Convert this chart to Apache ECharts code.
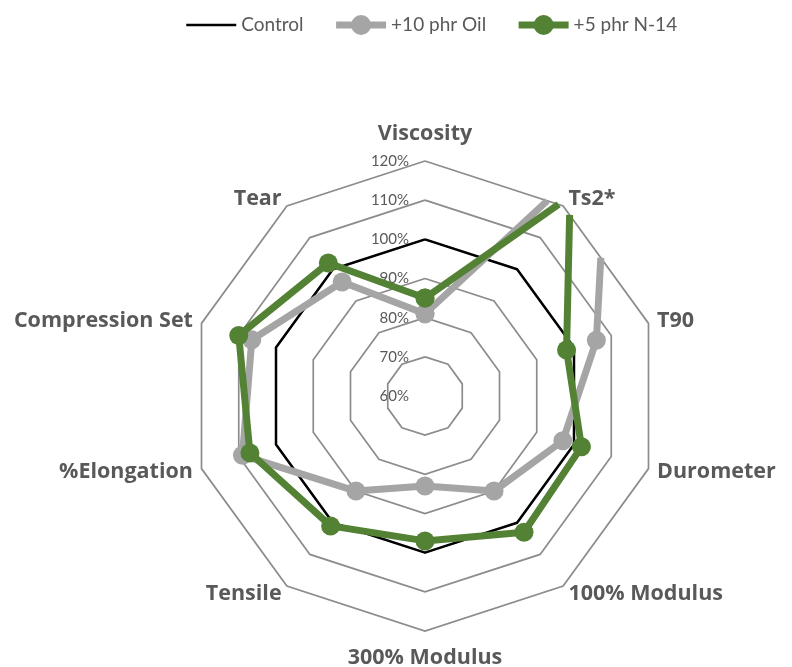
<!DOCTYPE html>
<html>
<head>
<meta charset="utf-8">
<script src="https://cdn.jsdelivr.net/npm/echarts@6/dist/echarts.min.js"></script>
<style>html,body{margin:0;padding:0;background:#fff;}#c{width:792px;height:667px;}</style>
</head>
<body>
<div id="c"></div>
<script>
// Categories, clockwise from the top
const categories = ['Viscosity', 'Ts2*', 'T90', 'Durometer', '100% Modulus', '300% Modulus', 'Tensile', '%Elongation', 'Compression Set', 'Tear'];
// Series values (percent of control)
const control = [100, 100, 100, 100, 100, 100, 100, 100, 100, 100];
const oil = [81, 139, 106, 97, 90, 83, 90, 109, 106.5, 96];
const n14 = [85, 123, 98, 102, 103, 97, 101, 107, 110, 102];
// Value axis
const axisMin = 60, axisMax = 120, axisStep = 10;
const tickLabels = ['60%', '70%', '80%', '90%', '100%', '110%', '120%'];

const FONT = 'Lato';
const NAME_FONT = 'Open Sans';
const chart = echarts.init(document.getElementById('c'), null, {renderer: 'canvas'});

const N = categories.length;
const STEP = 2 * Math.PI / N;
// Build the closed polygon in data space, cutting it where it leaves the
// outer (polygonal) ring of the chart, the way the plot area clips it.
function toXY(v, idx) {
  const rho = (v - axisMin) / (axisMax - axisMin);
  return [rho * Math.sin(idx * STEP), rho * Math.cos(idx * STEP)];
}
function fromXY(p, lo) {
  const rho = Math.hypot(p[0], p[1]);
  let phi = Math.atan2(p[0], p[1]);
  if (phi < 0) phi += 2 * Math.PI;
  let idx = phi / STEP;
  if (idx < lo - 1e-6) idx += N;
  return [axisMin + rho * (axisMax - axisMin), idx];
}
function intersect(A, B, C, D) {
  const r = [B[0] - A[0], B[1] - A[1]], s = [D[0] - C[0], D[1] - C[1]];
  const den = r[0] * s[1] - r[1] * s[0];
  const t = ((C[0] - A[0]) * s[1] - (C[1] - A[1]) * s[0]) / den;
  return [A[0] + t * r[0], A[1] + t * r[1]];
}
function loop(vals) {
  const inside = v => v <= axisMax;
  const out = [];
  if (inside(vals[0])) out.push([vals[0], 0]);
  for (let i = 0; i < N; i++) {
    const a = vals[i], b = vals[(i + 1) % N];
    const A = toXY(a, i), B = toXY(b, i + 1);
    const Va = toXY(axisMax, i), Vb = toXY(axisMax, i + 1);
    if (inside(a) && inside(b)) {
      out.push([b, i + 1]);
    } else if (inside(a) && !inside(b)) {
      out.push({value: fromXY(intersect(A, B, Va, Vb), i), symbol: 'none'});
      out.push('-');
    } else if (!inside(a) && inside(b)) {
      out.push({value: fromXY(intersect(A, B, Va, Vb), i), symbol: 'none'});
      out.push([b, i + 1]);
    }
  }
  return out;
}
// ECharts radar lays indicators counter-clockwise; reverse (keeping first on top)
const radarOrder = [categories[0]].concat(categories.slice(1).reverse());

const CENTER = [425, 396];
const R = 235;

chart.setOption({
  animation: false,
  backgroundColor: '#fff',
  legend: {
    top: 10, left: 180,
    itemWidth: 50, itemHeight: 25, itemGap: 29,
    textStyle: {fontFamily: FONT, fontSize: 19, color: '#595959'},
    data: [
      {name: 'Control', itemStyle: {opacity: 0}, lineStyle: {width: 2.5}},
      {name: '+10 phr Oil', lineStyle: {width: 7}},
      {name: '+5 phr N-14', lineStyle: {width: 7}}
    ]
  },
  radar: {
    center: CENTER, radius: R, startAngle: 90, z: 1,
    splitNumber: 6,
    shape: 'polygon',
    axisName: {color: '#595959', fontFamily: NAME_FONT, fontSize: 21.5, fontWeight: 'bold', padding: [7, 0, 7, 0]},
    nameGap: 9,
    axisLine: {show: false},
    axisTick: {show: false},
    axisLabel: {show: false},
    splitArea: {show: false},
    splitLine: {lineStyle: {color: '#8c8c8c', width: 1.7}},
    indicator: radarOrder.map(n => ({name: n, min: axisMin, max: axisMax}))
  },
  polar: {center: CENTER, radius: R},
  angleAxis: {
    type: 'value', min: 0, max: N, startAngle: 90, clockwise: true,
    axisLine: {show: false}, axisTick: {show: false}, axisLabel: {show: false}, splitLine: {show: false}
  },
  radiusAxis: {
    type: 'value', min: axisMin, max: axisMax, interval: axisStep,
    axisLine: {show: false}, axisTick: {show: false}, splitLine: {show: false},
    axisLabel: {
      show: true, margin: 16, color: '#595959', fontFamily: FONT, fontSize: 15,
      formatter: v => tickLabels[Math.round((v - axisMin) / axisStep)]
    }
  },
  series: [
    {
      name: 'Control', type: 'line', coordinateSystem: 'polar', data: loop(control),
      symbol: 'none', lineStyle: {color: '#000', width: 2.5, join: 'round'}, itemStyle: {color: '#000'}, z: 3
    },
    {
      name: '+10 phr Oil', type: 'line', coordinateSystem: 'polar', data: loop(oil), clip: false,
      symbol: 'circle', symbolSize: 19, lineStyle: {color: '#a5a5a5', width: 7, join: 'round'}, itemStyle: {color: '#a5a5a5'}, z: 4
    },
    {
      name: '+5 phr N-14', type: 'line', coordinateSystem: 'polar', data: loop(n14), clip: false,
      symbol: 'circle', symbolSize: 19, lineStyle: {color: '#548235', width: 7, join: 'round'}, itemStyle: {color: '#548235'}, z: 5
    }
  ]
});
</script>
</body>
</html>
